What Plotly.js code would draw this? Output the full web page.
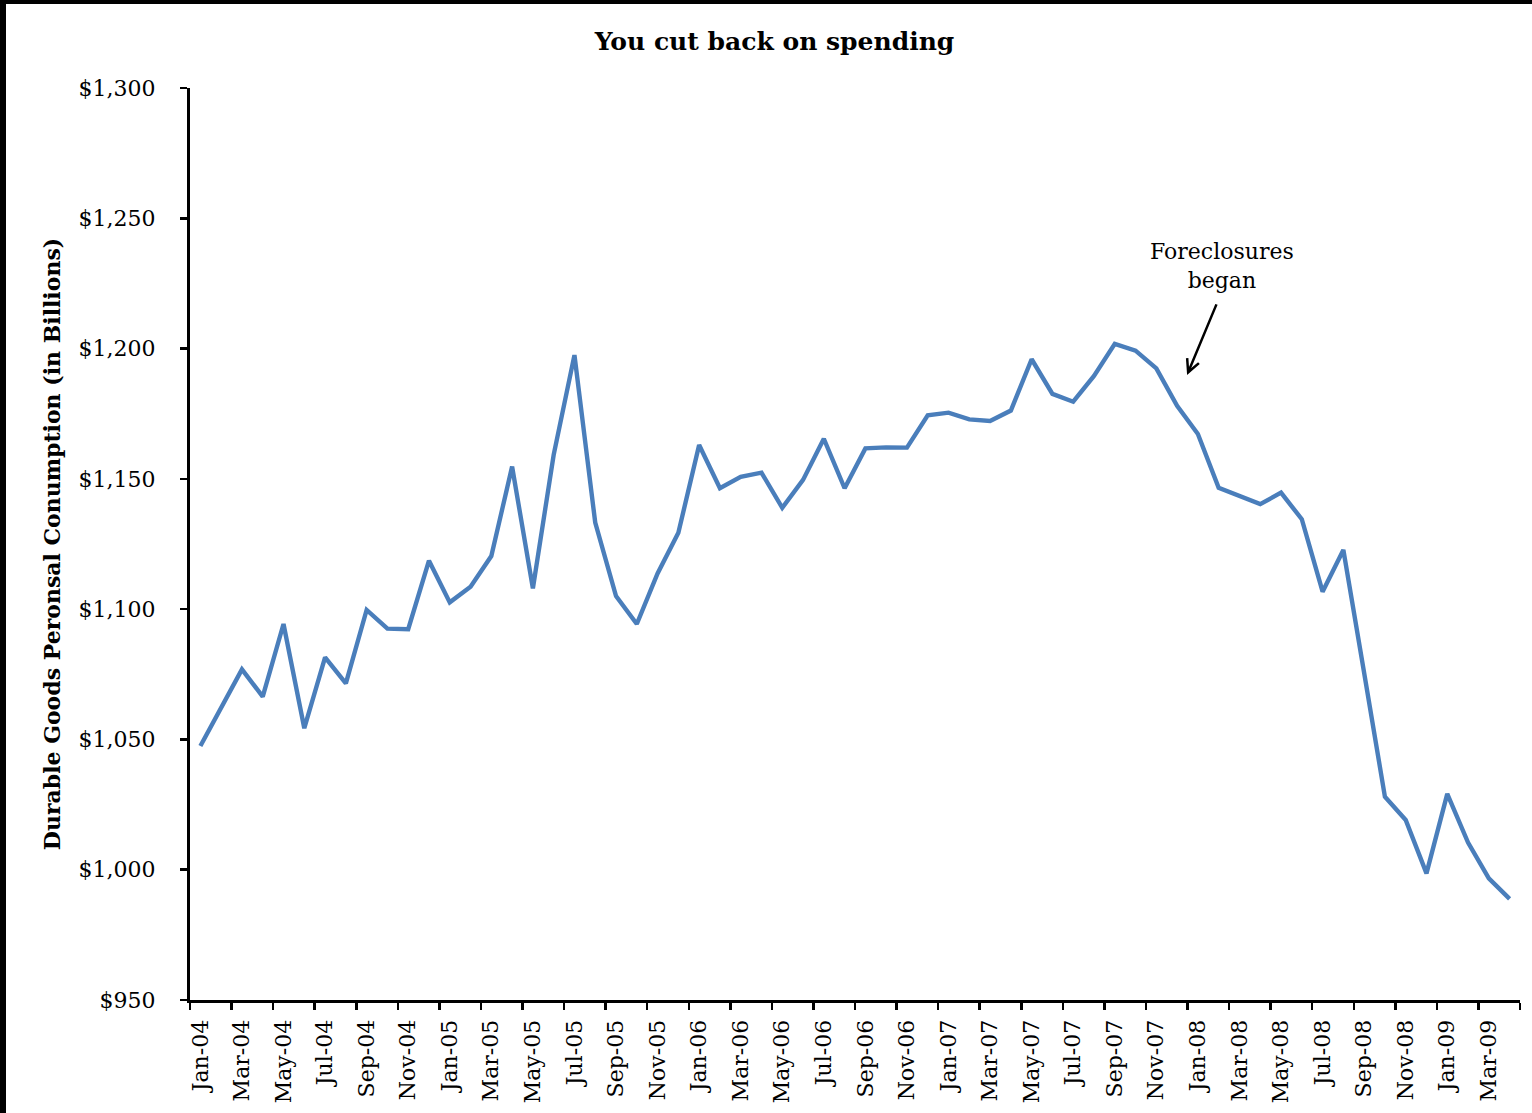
<!DOCTYPE html>
<html>
<head>
<meta charset="utf-8">
<script src="https://cdn.plot.ly/plotly-3.0.1.min.js"></script>
<style>
  html, body { margin: 0; padding: 0; background: #fff; }
  #frame { width: 1526px; height: 1109px; border-left: 6px solid #000; border-top: 4px solid #000; }
  #chart { width: 1526px; height: 1109px; }
</style>
</head>
<body>
<div id="frame"><div id="chart"></div></div>
<script>
const months = [
  "Jan-04","Feb-04","Mar-04","Apr-04","May-04","Jun-04","Jul-04","Aug-04","Sep-04","Oct-04","Nov-04","Dec-04",
  "Jan-05","Feb-05","Mar-05","Apr-05","May-05","Jun-05","Jul-05","Aug-05","Sep-05","Oct-05","Nov-05","Dec-05",
  "Jan-06","Feb-06","Mar-06","Apr-06","May-06","Jun-06","Jul-06","Aug-06","Sep-06","Oct-06","Nov-06","Dec-06",
  "Jan-07","Feb-07","Mar-07","Apr-07","May-07","Jun-07","Jul-07","Aug-07","Sep-07","Oct-07","Nov-07","Dec-07",
  "Jan-08","Feb-08","Mar-08","Apr-08","May-08","Jun-08","Jul-08","Aug-08","Sep-08","Oct-08","Nov-08","Dec-08",
  "Jan-09","Feb-09","Mar-09","Apr-09"
];

const spending = [
  1047.5, 1062.6, 1076.9, 1066.4, 1094.3, 1054.3, 1081.5, 1071.5, 1099.7, 1092.5, 1092.3, 1118.6,
  1102.6, 1108.6, 1120.4, 1154.7, 1108.0, 1159.2, 1197.5, 1133.2, 1105.0, 1094.3, 1113.7, 1129.3,
  1163.0, 1146.4, 1150.8, 1152.4, 1138.9, 1149.6, 1165.4, 1146.4, 1161.7, 1162.1, 1162.0, 1174.4,
  1175.4, 1172.8, 1172.2, 1176.2, 1195.9, 1182.6, 1179.6, 1189.5, 1201.8, 1199.2, 1192.4, 1178.0,
  1167.2, 1146.6, 1143.4, 1140.3, 1144.7, 1134.5, 1106.7, 1122.7, 1075.5, 1028.0, 1019.1, 998.6,
  1029.1, 1010.4, 996.7, 988.8
];

const chartTitle = "You cut back on spending";
const yTitle = "Durable Goods Peronsal Conumption (in Billions)";
const noteText = "Foreclosures<br>began";
const noteAt = {x: 49.16, y: 1231.5};
const arrowAt = {x: 47.48, y: 1189.9};

const serif = "DejaVu Serif, Liberation Serif, serif";

const trace = {
  type: "scatter",
  mode: "lines",
  x: months,
  y: spending,
  line: {color: "#4A7EBB", width: 4.4},
  hoverinfo: "x+y"
};

const layout = {
  width: 1526,
  height: 1109,
  margin: {l: 184, r: 12, t: 84, b: 113},
  paper_bgcolor: "#ffffff",
  plot_bgcolor: "#ffffff",
  showlegend: false,
  font: {family: serif, color: "#000", size: 22},
  title: {
    text: "<b>" + chartTitle + "</b>",
    font: {family: serif, size: 25, color: "#000"},
    xref: "container", x: 0.5036, xanchor: "center",
    yref: "container", y: 0.9666, yanchor: "middle"
  },
  xaxis: {
    type: "category",
    categoryorder: "array",
    categoryarray: months,
    range: [-0.5, 63.5],
    tickmode: "linear",
    tick0: 0,
    dtick: 2,
    tickson: "boundaries",
    ticks: "outside",
    ticklen: 7,
    tickwidth: 2.5,
    tickcolor: "#000",
    tickangle: -90,
    tickfont: {family: serif, size: 22, color: "#000"},
    ticklabelstandoff: 8,
    showline: true,
    linecolor: "#000",
    linewidth: 3,
    showgrid: false,
    zeroline: false,
    fixedrange: true
  },
  yaxis: {
    range: [950, 1300],
    tickmode: "linear",
    tick0: 950,
    dtick: 50,
    tickprefix: "$",
    tickformat: ",d",
    ticks: "outside",
    ticklen: 7,
    tickwidth: 2.5,
    tickcolor: "#000",
    tickfont: {family: serif, size: 22, color: "#000"},
    ticklabelstandoff: 20,
    showline: true,
    linecolor: "#000",
    linewidth: 3,
    showgrid: false,
    zeroline: false,
    fixedrange: true,
    title: {
      text: "<b>" + yTitle + "</b>",
      font: {family: serif, size: 22, color: "#000"},
      standoff: 12
    }
  },
  annotations: [
    {
      x: noteAt.x, y: noteAt.y, xref: "x", yref: "y",
      text: noteText,
      showarrow: false,
      xanchor: "center", yanchor: "middle",
      font: {family: serif, size: 22, color: "#000"}
    },
    {
      x: arrowAt.x, y: arrowAt.y, xref: "x", yref: "y",
      text: "",
      showarrow: true,
      arrowhead: 5,
      arrowsize: 1,
      arrowwidth: 2.5,
      arrowcolor: "#000",
      ax: 30, ay: -72
    }
  ]
};

Plotly.newPlot("chart", [trace], layout, {displayModeBar: false, staticPlot: true});
</script>
</body>
</html>
